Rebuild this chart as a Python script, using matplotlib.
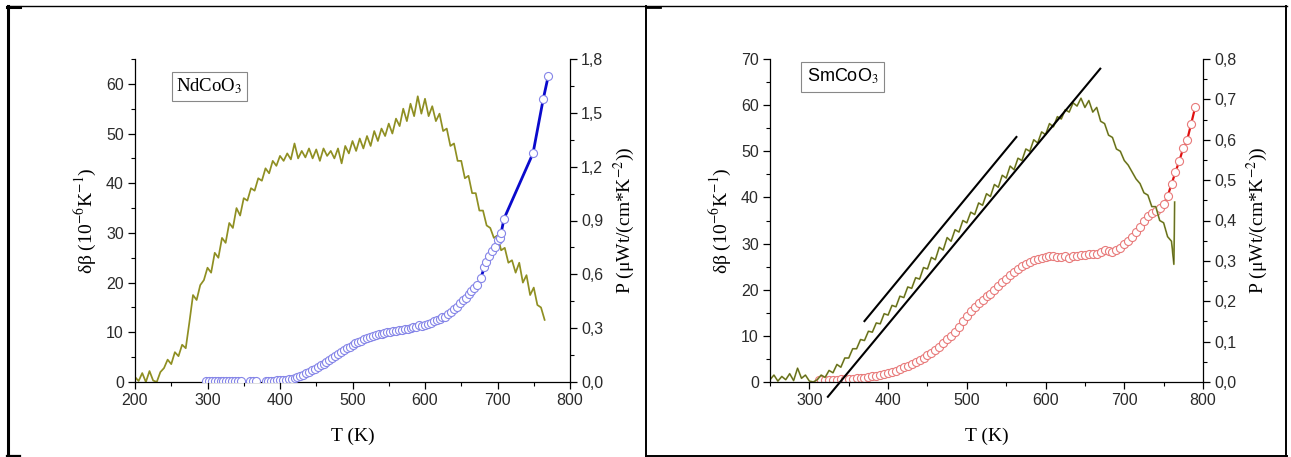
import matplotlib
matplotlib.use("Agg")
import matplotlib.pyplot as plt
from matplotlib.lines import Line2D
from matplotlib.ticker import MultipleLocator, FuncFormatter

plt.rcParams['font.family'] = ['Liberation Sans', 'DejaVu Sans']
plt.rcParams['mathtext.fontset'] = 'stix'

# ---------------- data: NdCoO3 ----------------
nd_T = [200, 205, 210, 215, 220, 225, 230, 235, 240, 245, 250, 255, 260, 265, 270, 275, 280, 285, 290, 295,
        300, 305, 310, 315, 320, 325, 330, 335, 340, 345, 350, 355, 360, 365, 370, 375, 380, 385, 390, 395,
        400, 405, 410, 415, 420, 425, 430, 435, 440, 445, 450, 455, 460, 465, 470, 475, 480, 485, 490, 495,
        500, 505, 510, 515, 520, 525, 530, 535, 540, 545, 550, 555, 560, 565, 570, 575, 580, 585, 590, 595,
        600, 605, 610, 615, 620, 625, 630, 635, 640, 645, 650, 655, 660, 665, 670, 675, 680, 685, 690, 695,
        700, 705, 710, 715, 720, 725, 730, 735, 740, 745, 750, 755, 760, 765]
nd_dbeta = [1.0, 0.2, 1.8, 0.0, 2.2, 0.3, 0.0, 2.0, 2.8, 4.5, 3.6, 6.0, 5.2, 7.5, 6.8, 12.0, 17.5, 16.5, 19.5, 20.5,
            23.0, 22.0, 26.0, 25.0, 29.0, 28.0, 32.0, 31.0, 35.0, 33.5, 37.0, 36.5, 39.0, 38.5, 41.0, 40.5, 43.0, 42.0, 44.5, 43.5,
            45.5, 44.5, 46.0, 44.8, 48.0, 45.0, 46.5, 45.2, 47.0, 45.0, 46.8, 44.5, 47.0, 45.5, 46.5, 45.0, 47.0, 44.0, 47.5, 46.0,
            48.5, 46.5, 49.0, 47.0, 49.5, 47.5, 50.5, 48.5, 51.0, 49.5, 52.0, 50.0, 53.0, 51.5, 55.0, 52.5, 56.0, 53.5, 57.5, 54.0,
            57.0, 53.5, 55.5, 52.5, 54.0, 50.5, 51.0, 47.5, 48.0, 44.5, 44.5, 41.0, 41.5, 38.0, 38.0, 34.5, 34.5, 31.5, 31.0, 29.0,
            29.5, 26.5, 27.0, 24.0, 24.5, 22.0, 24.0, 20.0, 21.5, 17.5, 19.0, 15.5, 15.0, 12.5]

nd_PT = [298, 302, 306, 310, 314, 318, 322, 326, 330, 334, 338, 342, 346, 359, 363, 367,
         380, 384, 388, 392, 396, 400, 404, 408, 412, 416, 420, 424, 428, 432, 436, 440, 444, 448,
         452, 456, 460, 464, 468, 472, 476, 480, 484, 488, 492, 496, 500, 504, 508, 512, 516, 520,
         524, 528, 532, 536, 540, 544, 548, 552, 556, 560, 564, 568, 572, 576, 580, 584, 588, 592,
         596, 600, 604, 608, 612, 616, 620, 624, 628, 632, 636, 640, 644, 648, 652, 656, 660, 664,
         668, 672, 677, 682, 684, 688, 692, 696, 700, 703, 705, 709, 749, 763, 770]
nd_P = [0.005, 0.005, 0.005, 0.005, 0.005, 0.005, 0.005, 0.005, 0.005, 0.005, 0.005, 0.005, 0.005, 0.005, 0.005, 0.005,
        0.006, 0.007, 0.008, 0.008, 0.009, 0.010, 0.011, 0.013, 0.015, 0.018, 0.022, 0.027, 0.033, 0.040, 0.048, 0.056, 0.065, 0.074,
        0.083, 0.093, 0.103, 0.113, 0.124, 0.135, 0.145, 0.156, 0.166, 0.177, 0.187, 0.197, 0.206, 0.215, 0.223, 0.231, 0.238, 0.244,
        0.250, 0.256, 0.261, 0.266, 0.270, 0.274, 0.277, 0.280, 0.283, 0.285, 0.288, 0.290, 0.293, 0.296, 0.300, 0.304, 0.308, 0.320,
        0.310, 0.318, 0.325, 0.330, 0.340, 0.347, 0.352, 0.360, 0.365, 0.378, 0.392, 0.405, 0.420, 0.438, 0.455, 0.470, 0.490, 0.505,
        0.522, 0.540, 0.580, 0.640, 0.670, 0.700, 0.730, 0.755, 0.790, 0.800, 0.830, 0.910, 1.275, 1.575, 1.705]
nd_line_from = 677  # solid line drawn through points from this T on

# ---------------- data: SmCoO3 ----------------
sm_T = [250, 255, 260, 265, 270, 275, 280, 285, 290, 295, 300, 305, 310, 315, 320, 325, 330, 335, 340, 345,
        350, 355, 360, 365, 370, 375, 380, 385, 390, 395, 400, 405, 410, 415, 420, 425, 430, 435, 440, 445,
        450, 455, 460, 465, 470, 475, 480, 485, 490, 495, 500, 505, 510, 515, 520, 525, 530, 535, 540, 545,
        550, 555, 560, 565, 570, 575, 580, 585, 590, 595, 600, 605, 610, 615, 620, 625, 630, 635, 640, 645,
        650, 655, 660, 665, 670, 675, 680, 685, 690, 695, 700, 705, 710, 715, 720, 725, 730, 735, 740, 745,
        750, 755, 760, 763, 764]
sm_dbeta = [0.5, 1.5, 0.2, 1.2, 0.5, 1.8, 0.3, 3.0, 0.8, 1.5, 0.2, 0.0, 0.5, 1.5, 1.0, 2.5, 2.0, 3.8, 3.2, 5.2,
            5.2, 7.2, 7.2, 9.2, 9.0, 11.0, 10.8, 12.8, 12.6, 14.8, 14.5, 16.6, 16.3, 18.6, 18.3, 20.6, 20.3, 22.6, 22.3, 24.8,
            24.5, 27.0, 26.5, 29.2, 28.6, 31.3, 30.5, 33.0, 32.5, 35.0, 34.5, 36.8, 36.3, 38.8, 38.3, 40.8, 40.2, 42.8, 42.2, 44.8,
            44.2, 46.8, 46.0, 48.5, 48.0, 50.5, 50.0, 52.5, 51.8, 54.2, 53.6, 56.0, 55.3, 57.5, 57.0, 59.0, 58.5, 60.5, 59.8, 61.5,
            59.5, 61.0, 58.5, 59.5, 56.5, 56.0, 53.5, 53.0, 50.5, 50.0, 48.0, 47.0, 45.5, 44.0, 43.0, 41.0, 40.5, 38.0, 38.0, 35.0,
            34.5, 31.5, 30.5, 25.5, 39.0]

sm_PT = [312, 315, 320, 325, 330, 335, 340, 345, 350, 355, 360, 365, 370, 375, 380, 385, 390, 395, 400, 405,
         410, 415, 420, 425, 430, 435, 440, 445, 450, 455, 460, 465, 470, 475, 480, 485, 490, 495, 500, 505,
         510, 515, 520, 525, 530, 535, 540, 545, 550, 555, 560, 565, 570, 575, 580, 585, 590, 595, 600, 605,
         610, 615, 620, 625, 630, 635, 640, 645, 650, 655, 660, 665, 670, 675, 680, 685, 690, 695, 700, 705,
         710, 715, 720, 725, 730, 735, 740, 745, 750, 755, 760, 765, 770, 775, 780, 785, 790]
sm_P = [0.005, 0.005, 0.005, 0.005, 0.006, 0.006, 0.007, 0.007, 0.008, 0.008, 0.009, 0.010, 0.011, 0.012, 0.014, 0.016, 0.018, 0.020, 0.022, 0.025,
        0.028, 0.032, 0.036, 0.040, 0.045, 0.050, 0.055, 0.060, 0.066, 0.072, 0.079, 0.087, 0.096, 0.106, 0.114, 0.125, 0.137, 0.150, 0.164, 0.177,
        0.186, 0.195, 0.204, 0.212, 0.218, 0.227, 0.237, 0.247, 0.256, 0.264, 0.272, 0.280, 0.287, 0.293, 0.298, 0.302, 0.305, 0.308, 0.310, 0.311,
        0.311, 0.310, 0.309, 0.312, 0.308, 0.313, 0.311, 0.314, 0.315, 0.316, 0.317, 0.318, 0.322, 0.326, 0.325, 0.323, 0.328, 0.333, 0.342, 0.350,
        0.360, 0.372, 0.385, 0.398, 0.410, 0.418, 0.424, 0.430, 0.440, 0.460, 0.490, 0.520, 0.548, 0.580, 0.600, 0.640, 0.680]
sm_line_from = 720

fit1_T = [323.5, 669.5]
fit1_dbeta = [-3.2, 67.9]
fit2_T = [370, 563]
fit2_dbeta = [13.2, 53.1]

# ---------------- figure ----------------
W, H = 1291, 457
fig = plt.figure(figsize=(W / 100, H / 100), dpi=100)


def px_axes(x0, x1, ytop, ybot):
    return fig.add_axes([x0 / W, (H - ybot) / H, (x1 - x0) / W, (ybot - ytop) / H])


def comma(fmt):
    return FuncFormatter(lambda v, p: fmt.format(v).replace('.', ','))


OLIVE = '#8f8f22'
SERIF = ['Liberation Serif', 'DejaVu Serif']
TICKFS = 11.5
LABFS = 14


def style(ax, ax2, xmaj, xmin, ymaj, ymin, y2maj, y2min):
    for a in (ax, ax2):
        a.spines['top'].set_visible(False)
        for s in a.spines.values():
            s.set_linewidth(0.9)
    ax.spines['right'].set_visible(False)
    ax2.spines['left'].set_visible(False)
    ax2.spines['bottom'].set_visible(False)
    ax.xaxis.set_major_locator(MultipleLocator(xmaj))
    ax.xaxis.set_minor_locator(MultipleLocator(xmin))
    ax.yaxis.set_major_locator(MultipleLocator(ymaj))
    ax.yaxis.set_minor_locator(MultipleLocator(ymin))
    ax2.yaxis.set_major_locator(MultipleLocator(y2maj))
    ax2.yaxis.set_minor_locator(MultipleLocator(y2min))
    ax2.yaxis.set_major_formatter(comma('{:.1f}'))
    for a in (ax, ax2):
        a.tick_params(which='major', direction='out', length=5, width=0.9, labelsize=TICKFS, colors='black',
                      labelcolor='#2a2a2a', pad=3)
        a.tick_params(which='minor', direction='out', length=3, width=0.8)
    ax2.tick_params(axis='x', which='both', bottom=False, labelbottom=False)


# ---------- left panel ----------
axL = px_axes(135, 570, 59, 382)
axLr = axL.twinx()
axL.plot(nd_T, nd_dbeta, color=OLIVE, lw=1.25, zorder=2)
axL.set_xlim(200, 800)
axL.set_ylim(0, 65)
axLr.set_ylim(0, 1.8)
lT = [t for t in nd_PT if t >= nd_line_from]
lP = [p for t, p in zip(nd_PT, nd_P) if t >= nd_line_from]
axLr.plot(lT, lP, color='#0a0acc', lw=2.0, zorder=2)
axLr.plot(nd_PT, nd_P, ls='none', marker='o', ms=5.8, mfc='white', mec='#8585e8', mew=0.8, zorder=3)
style(axL, axLr, 100, 50, 10, 5, 0.3, 0.15)
axL.set_xlabel('T (K)', family=SERIF, fontsize=LABFS, labelpad=14)
axL.set_ylabel(r'δβ (10$^{-6}$K$^{-1}$)', family=SERIF, fontsize=LABFS, labelpad=6)
axLr.set_ylabel(r'P (μWt/(cm*K$^{-2}$))', family=SERIF, fontsize=LABFS, labelpad=6)
axL.text(0.095, 0.945, r'NdCoO$_3$', transform=axL.transAxes, family=SERIF, fontsize=13.5, va='top', ha='left',
         bbox=dict(boxstyle='square,pad=0.25', fc='white', ec='#888888', lw=0.8))

# ---------- right panel ----------
axR = px_axes(770, 1203, 59, 382)
axRr = axR.twinx()
axR.plot(sm_T, sm_dbeta, color='#8f9a34', lw=1.25, zorder=2)
axR.plot(sm_T, sm_dbeta, color='#2a2a10', lw=0.4, alpha=0.7, zorder=2)
axR.plot(fit1_T, fit1_dbeta, color='black', lw=1.5, zorder=4, clip_on=False)
axR.plot(fit2_T, fit2_dbeta, color='black', lw=1.5, zorder=4)
axR.set_xlim(250, 800)
axR.set_ylim(0, 70)
axRr.set_ylim(0, 0.8)
rT = [t for t in sm_PT if t >= sm_line_from]
rP = [p for t, p in zip(sm_PT, sm_P) if t >= sm_line_from]
axRr.plot(rT, rP, color='#e01010', lw=1.6, zorder=2)
axRr.plot(sm_PT, sm_P, ls='none', marker='o', ms=5.8, mfc='white', mec='#e87a7a', mew=0.8, zorder=3)
style(axR, axRr, 100, 50, 10, 5, 0.1, 0.05)
axR.set_xlabel('T (K)', family=SERIF, fontsize=LABFS, labelpad=14)
axR.set_ylabel(r'δβ (10$^{-6}$K$^{-1}$)', family=SERIF, fontsize=LABFS, labelpad=6)
axRr.set_ylabel(r'P (μWt/(cm*K$^{-2}$))', family=SERIF, fontsize=LABFS, labelpad=6)
axR.text(0.085, 0.975, r'SmCoO$_3$', transform=axR.transAxes, fontsize=13, va='top', ha='left',
         bbox=dict(boxstyle='square,pad=0.3', fc='white', ec='#888888', lw=0.8))
axR.set_zorder(axRr.get_zorder() + 1)
axR.patch.set_visible(False)


# ---------- panel frames ----------
def fline(xs, ys, lw=1.0):
    fig.add_artist(Line2D([x / W for x in xs], [(H - y) / H for y in ys], color='black', lw=lw,
                          transform=fig.transFigure))


fline([7, 1287], [6, 6], 1.0)
fline([7.5, 7.5], [6, 456], 2.2)
fline([7, 20], [6.5, 6.5], 2.2)
fline([7, 20], [456, 456], 1.6)
fline([646, 646], [6, 456], 1.4)
fline([646, 660], [6.5, 6.5], 2.0)
fline([646, 1287], [456, 456], 1.4)
fline([1286, 1286], [6, 456], 1.4)

fig.savefig('out.png', dpi=100)
